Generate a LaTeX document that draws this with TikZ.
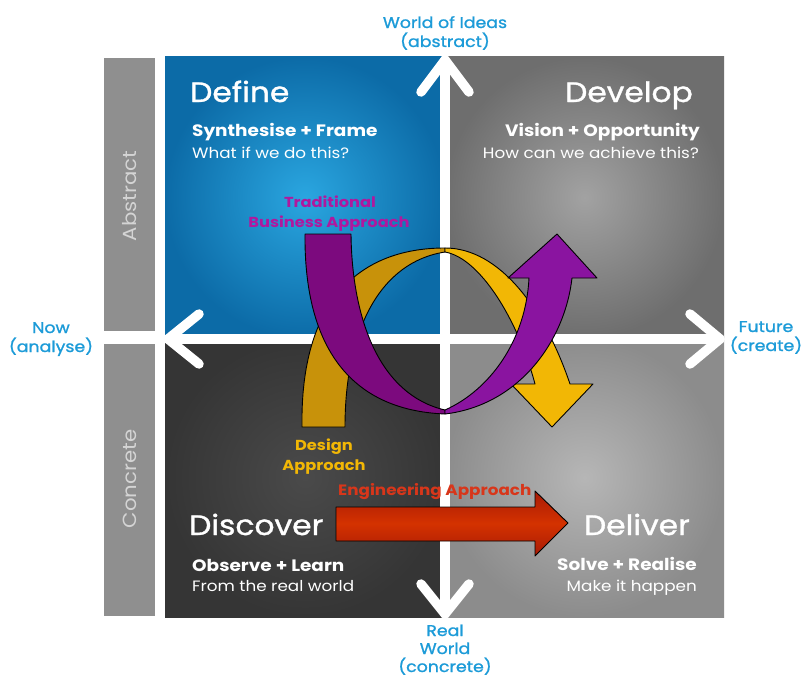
\documentclass[tikz,border=0pt]{standalone}
\usepackage{fontspec}
\setmainfont{Poppins}[FakeStretch=1.12]
\newfontfamily\medfont{Poppins}[FakeStretch=1.12, FakeBold=1.2]
\definecolor{labblue}{HTML}{1C9BD8}
\definecolor{magtext}{HTML}{B0189E}
\definecolor{yeltext}{HTML}{F2B705}
\definecolor{redtext}{HTML}{D8361A}
\definecolor{ydark}{HTML}{C8920A}
\definecolor{ylight}{HTML}{F2B705}
\definecolor{pdark}{HTML}{7C0A7E}
\definecolor{plight}{HTML}{8A14A0}
\definecolor{barg}{HTML}{8F8F8F}
\definecolor{bartext}{HTML}{D4D4D4}
\definecolor{redA}{HTML}{A81A06}
\definecolor{redB}{HTML}{D43200}
\definecolor{blueIn}{HTML}{2AA6E0}
\definecolor{blueOut}{HTML}{0C6BA7}
\definecolor{trIn}{HTML}{A2A2A2}
\definecolor{trOut}{HTML}{6E6E6E}
\definecolor{blIn}{HTML}{4A4A4A}
\definecolor{blOut}{HTML}{353535}
\definecolor{brIn}{HTML}{B6B6B6}
\definecolor{brOut}{HTML}{8C8C8C}
\tikzset{
  axisline/.style={white, line width=9.5pt, line cap=round, line join=round},
  title/.style={text=white, font=\medfont\fontsize{28}{30}\selectfont, inner sep=0pt},
  subhead/.style={text=white, font=\bfseries\fontsize{16.5}{18}\selectfont, inner sep=0pt},
  subline/.style={text=white, font=\fontsize{15}{17}\selectfont, inner sep=0pt},
  lab/.style={text=labblue, font=\medfont\fontsize{15.5}{17}\selectfont, inner sep=0pt},
  applab/.style={font=\bfseries\fontsize{14.5}{17}\selectfont, inner sep=0pt},
  bartxt/.style={text=bartext, font=\fontsize{19}{22}\selectfont, inner sep=0pt, rotate=90},
  ribbon/.style={draw=black, line width=0.9pt, line join=round},
}
\begin{document}
\begin{tikzpicture}[x=1pt,y=-1pt]
\useasboundingbox (0,0) rectangle (803,677);
\fill[white] (0,0) rectangle (803,677);
% side bars
\fill[barg] (104,58) rectangle (155,331);
\fill[barg] (104,344) rectangle (155,616);
\node[bartxt] (abs) at (130,196) {Abstract};
\node[bartxt] (con) at (130,479) {Concrete};
% quadrants
\shade[inner color=blueIn, outer color=blueOut] (165,57) rectangle (445,338);
\shade[inner color=trIn, outer color=trOut] (445,57) rectangle (724,338);
\shade[inner color=blIn, outer color=blOut] (165,338) rectangle (445,617);
\shade[inner color=brIn, outer color=brOut] (445,338) rectangle (724,617);
% axes
\coordinate (vt) at (445,60);
\coordinate (vb) at (445,614);
\coordinate (hl) at (168,339);
\coordinate (hr) at (720,339);
\draw[axisline] (vt) -- (vb);
\draw[axisline] (hl) -- (hr);
\draw[axisline] (421,92) -- (vt) -- (469,92);
\draw[axisline] (421,584) -- (vb) -- (469,584);
\draw[axisline] (199,314) -- (hl) -- (199,364);
\draw[axisline] (690,314) -- (hr) -- (690,364);
% quadrant texts
\node[title, anchor=base west] (def) at (190,102) {Define};
\node[subhead, anchor=base west] (def1) at (192,136.5) {Synthesise + Frame};
\node[subline, anchor=base west] (def2) at (192,158) {What if we do this?};
\node[title, anchor=base east] (dev) at (693,102) {Develop};
\node[subhead, anchor=base east] (dev1) at (700,136) {Vision + Opportunity};
\node[subline, anchor=base east] (dev2) at (699,158) {How can we achieve this?};
\node[title, anchor=base west] (dis) at (189,535) {Discover};
\node[subhead, anchor=base west] (dis1) at (192,571) {Observe + Learn};
\node[subline, anchor=base west] (dis2) at (192,591) {From the real world};
\node[title, anchor=base east] (del) at (690,535) {Deliver};
\node[subhead, anchor=base east] (del1) at (697,570) {Solve + Realise};
\node[subline, anchor=base east] (del2) at (697,591) {Make it happen};
% axis labels
\node[lab, anchor=base] (wi1) at (445,28) {World of Ideas};
\node[lab, anchor=base] (wi2) at (445,47) {(abstract)};
\node[lab, anchor=base] (rw1) at (445,636) {Real};
\node[lab, anchor=base] (rw2) at (445,654) {World};
\node[lab, anchor=base] (rw3) at (445,672) {(concrete)};
\node[lab, anchor=base] (now1) at (51,333) {Now};
\node[lab, anchor=base] (now2) at (51,352) {(analyse)};
\node[lab, anchor=base] (fut1) at (766,332) {Future};
\node[lab, anchor=base] (fut2) at (766,351) {(create)};
% engineering arrow
\shade[top color=redA, bottom color=redA, middle color=redB] (336,507) -- (535,507) -- (535,491) -- (568,523) -- (535,556) -- (535,541) -- (336,541) -- cycle;
\draw[ribbon] (336,507) -- (535,507) -- (535,491) -- (568,523) -- (535,556) -- (535,541) -- (336,541) -- cycle;
% design ribbon (yellow)
\filldraw[ribbon, fill=ydark] (302,427) .. controls (300,300) and (360,248) .. (445,248) -- (445,252) .. controls (380,262) and (345,330) .. (345,427) -- cycle;
\filldraw[ribbon, fill=ylight] (445,248) .. controls (500,248) and (545,310) .. (570,384) -- (593,384) -- (552,427) -- (511,384) -- (535,384) .. controls (518,320) and (480,258) .. (445,252) -- cycle;
% traditional ribbon (purple)
\filldraw[ribbon, fill=pdark] (305,234) .. controls (304,340) and (345,410) .. (445,414) -- (445,410) .. controls (380,395) and (352,320) .. (351,234) -- cycle;
\filldraw[ribbon, fill=plight] (445,414) .. controls (520,405) and (565,340) .. (572,278) -- (597,278) -- (557,234) -- (508,278) -- (529,278) .. controls (526,340) and (490,390) .. (445,410) -- cycle;
% approach labels
\node[applab, text=magtext, anchor=base] (tb1) at (330,207) {Traditional};
\node[applab, text=magtext, anchor=base] (tb2) at (329,227) {Business Approach};
\node[applab, text=yeltext, anchor=base] (da1) at (324,450) {Design};
\node[applab, text=yeltext, anchor=base] (da2) at (324,470) {Approach};
\node[applab, text=redtext, anchor=base west, font=\bfseries\fontsize{15}{17}\selectfont] (ea) at (338,495) {Engineering Approach};
\end{tikzpicture}
\end{document}
